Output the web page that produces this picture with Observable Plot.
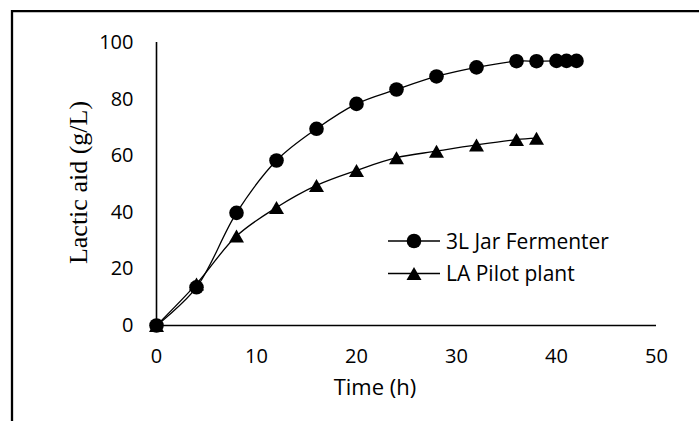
<!DOCTYPE html>
<html><head><meta charset="utf-8">
<script src="https://cdn.jsdelivr.net/npm/d3@7"></script>
<script src="https://cdn.jsdelivr.net/npm/@observablehq/plot@0.6"></script>
<style>
body{margin:0;background:#fff;}
#chart{width:699px;height:421px;overflow:hidden;}
</style>
</head><body><div id="chart"></div>
<script>
// Data
const timeJar = [0, 4, 8, 12, 16, 20, 24, 28, 32, 36, 38, 40, 41, 42];
const lacticJar = [0, 13.5, 39.8, 58.3, 69.5, 78.3, 83.4, 88, 91.2, 93.4, 93.4, 93.5, 93.5, 93.5];
const timePilot = [0, 4, 8, 12, 16, 20, 24, 28, 32, 36, 38];
const lacticPilot = [0, 14.7, 31.6, 41.7, 49.5, 54.8, 59.3, 61.6, 63.8, 65.7, 66.2];
const seriesNames = ["3L Jar Fermenter", "LA Pilot plant"];
const xTicks = [0, 10, 20, 30, 40, 50];
const yTicks = [0, 20, 40, 60, 80, 100];
const xTitle = "Time (h)";
const yTitle = "Lactic aid (g/L)";

const jar = timeJar.map((t, i) => ({t, v: lacticJar[i], s: seriesNames[0]}));
const pilot = timePilot.map((t, i) => ({t, v: lacticPilot[i], s: seriesNames[1]}));

const triSize = 97.4; // d3 symbol area
const triR = Math.sqrt(triSize / Math.PI);

const svg = Plot.plot({
  width: 699, height: 421,
  marginLeft: 156, marginRight: 43, marginTop: 42, marginBottom: 96,
  style: {fontFamily: "'Open Sans', sans-serif", fontSize: "20px", color: "#000", background: "#fff", overflow: "hidden"},
  x: {domain: [0, 50]},
  y: {domain: [0, 100]},
  marks: [
    Plot.axisX({ticks: xTicks, tickSize: 0, tickPadding: 23, label: null, fontSize: 20}),
    Plot.axisY({ticks: yTicks, tickSize: 0, tickPadding: 23, label: null, fontSize: 20}),
    Plot.ruleY([0], {stroke: "#000", strokeWidth: 1.6}),
    Plot.ruleX([0], {stroke: "#000", strokeWidth: 1.6}),
    Plot.line(pilot, {x: "t", y: "v", curve: "catmull-rom", stroke: "#000", strokeWidth: 1.3}),
    Plot.line(jar, {x: "t", y: "v", curve: "catmull-rom", stroke: "#000", strokeWidth: 1.3}),
    Plot.dot(pilot, {x: "t", y: "v", symbol: "triangle", r: triR, fill: "#000", stroke: "none", dy: 2.2}),
    Plot.dot(jar, {x: "t", y: "v", r: 7.3, fill: "#000", stroke: "none"})
  ]
});

const g = d3.select(svg);
// outer frame (left and top edges visible)
g.append("path").attr("d", "M12,421V11.2H699").attr("fill", "none").attr("stroke", "#000").attr("stroke-width", 2.3);

// axis titles
g.append("text").attr("x", 375).attr("y", 395).attr("text-anchor", "middle")
  .attr("font-family", "'Open Sans', sans-serif").attr("font-size", 22).attr("fill", "#000").text(xTitle);
g.append("text").attr("transform", "translate(86.5,182.5) rotate(-90)").attr("text-anchor", "middle")
  .attr("font-family", "'Liberation Serif', 'Times New Roman', serif").attr("font-size", 26).attr("fill", "#000").text(yTitle);

// legend
const leg = g.append("g");
const rows = [{y: 241, name: seriesNames[0], sym: "circle"}, {y: 273.5, name: seriesNames[1], sym: "triangle"}];
rows.forEach(r => {
  leg.append("line").attr("x1", 388).attr("x2", 440).attr("y1", r.y).attr("y2", r.y).attr("stroke", "#000").attr("stroke-width", 1.3);
  if (r.sym === "circle") {
    leg.append("circle").attr("cx", 414).attr("cy", r.y).attr("r", 7.3).attr("fill", "#000");
  } else {
    leg.append("path").attr("d", d3.symbol(d3.symbolTriangle, triSize)()).attr("transform", `translate(414,${r.y + 2.2})`).attr("fill", "#000");
  }
  leg.append("text").attr("x", 446).attr("y", r.y + 7.5).attr("text-anchor", "start").attr("font-family", "'Open Sans', sans-serif")
    .attr("font-size", 21).attr("fill", "#000").text(r.name);
});

document.getElementById("chart").appendChild(svg);
</script>
</body></html>
